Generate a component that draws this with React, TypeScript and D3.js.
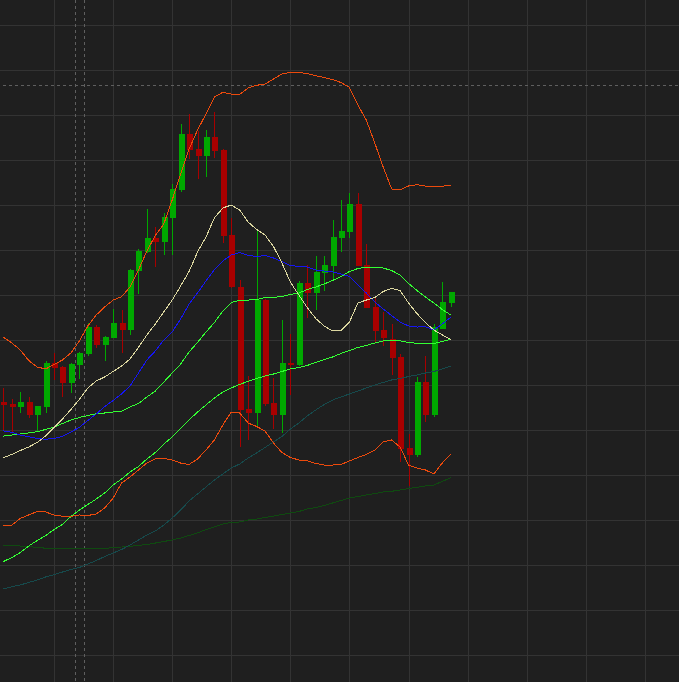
import { useEffect, useRef } from 'react'
import * as d3 from 'd3'

// OHLC, one entry per session (price units)
const opens = [
  33.14, 32.92, 32.56, 33.11, 31.70, 32.59, 37.44, 36.97, 35.26, 37.22,
  38.44, 41.41, 39.48, 40.26, 41.89, 41.11, 47.70, 49.78, 51.37, 50.89,
  53.59, 56.67, 62.89, 61.22, 60.44, 62.56, 61.11, 51.67, 45.86, 32.33,
  31.92, 44.48, 33.00, 31.67, 37.44, 37.22, 46.33, 45.22, 47.44, 48.22,
  51.33, 52.00, 55.11, 48.33, 43.67, 41.11, 40.11, 38.11, 28.00, 27.22,
  35.33, 31.67, 41.22, 44.11,
]
const highs = [
  34.70, 33.44, 34.22, 33.63, 32.63, 37.63, 38.52, 37.11, 37.44, 38.70,
  41.86, 41.63, 40.44, 43.44, 43.33, 47.89, 50.08, 54.56, 52.59, 54.08,
  57.33, 64.00, 65.11, 63.22, 63.33, 65.33, 61.22, 53.59, 46.67, 36.03,
  52.11, 44.56, 35.81, 42.22, 40.67, 46.56, 48.33, 49.33, 49.33, 53.33,
  55.56, 56.33, 56.33, 50.67, 44.81, 43.11, 41.78, 38.44, 29.56, 35.89,
  38.22, 41.78, 46.44, 45.33,
]
const lows = [
  30.00, 29.81, 31.86, 31.37, 29.81, 31.86, 35.56, 33.70, 34.14, 35.67,
  38.26, 39.14, 37.67, 40.26, 38.59, 40.56, 45.11, 49.67, 48.14, 49.48,
  49.48, 56.48, 60.11, 57.89, 58.11, 60.22, 50.78, 45.78, 28.14, 28.89,
  30.44, 32.67, 30.11, 29.63, 33.89, 37.11, 42.44, 43.33, 45.44, 46.67,
  49.81, 51.33, 48.22, 43.56, 39.67, 39.33, 36.11, 26.44, 23.78, 27.00,
  30.89, 31.48, 41.22, 43.67,
]
const closes = [
  32.81, 32.56, 33.11, 31.70, 32.63, 37.44, 36.92, 35.26, 37.33, 38.59,
  41.48, 39.48, 40.37, 41.89, 41.14, 47.78, 49.89, 51.37, 50.92, 53.67,
  56.78, 62.89, 61.14, 60.44, 62.56, 61.00, 51.59, 45.86, 32.22, 31.92,
  44.48, 32.89, 31.67, 37.44, 37.22, 46.33, 45.22, 47.56, 48.33, 51.44,
  52.11, 55.11, 48.22, 43.56, 41.00, 40.22, 38.00, 27.89, 27.22, 35.33,
  31.67, 41.44, 44.22, 45.33,
]

// Bollinger bands
const bbUpper = [
  40.30, 39.67, 38.89, 37.72, 37.00, 36.78, 37.28, 37.78, 38.56, 39.89,
  41.56, 42.78, 43.67, 44.44, 44.81, 45.89, 47.78, 49.89, 51.61, 52.89,
  55.56, 58.44, 61.22, 63.33, 65.11, 67.00, 67.52, 67.33, 67.28, 68.00,
  68.30, 68.44, 69.00, 69.56, 69.74, 69.74, 69.59, 69.37, 69.17, 68.94,
  68.61, 68.06, 66.11, 64.44, 61.89, 59.22, 56.78, 56.67, 57.11, 57.26,
  57.11, 57.08, 57.08, 57.22,
]
const bbLower = [
  19.41, 19.44, 20.17, 20.56, 20.94, 20.89, 20.56, 20.41, 20.41, 20.56,
  20.50, 20.67, 21.33, 22.44, 24.11, 24.78, 25.56, 26.33, 26.78, 26.83,
  26.67, 26.33, 26.17, 26.78, 27.78, 28.89, 30.56, 32.00, 31.89, 30.78,
  30.39, 29.89, 28.56, 27.50, 26.94, 26.67, 26.59, 26.28, 26.11, 26.11,
  26.17, 26.56, 26.94, 27.28, 27.78, 28.67, 28.89, 28.11, 26.11, 25.78,
  25.56, 25.11, 26.33, 27.33,
]

// moving averages
const maFast = [
  26.94, 27.28, 27.72, 28.11, 28.61, 29.33, 30.28, 31.22, 32.28, 33.39,
  34.67, 35.44, 35.89, 36.50, 37.11, 37.89, 39.17, 40.56, 41.78, 43.11,
  44.44, 46.00, 47.61, 49.78, 51.44, 53.56, 54.67, 55.00, 54.44, 53.11,
  52.28, 51.67, 50.39, 48.56, 46.44, 45.00, 43.61, 42.39, 41.56, 41.00,
  41.06, 42.00, 44.11, 44.44, 44.72, 45.39, 45.74, 45.50, 44.11, 42.94,
  41.94, 41.11, 40.56, 40.08,
]
const maMid = [
  29.89, 29.74, 29.44, 29.26, 29.06, 28.97, 29.06, 29.28, 29.78, 30.28,
  31.06, 31.78, 32.61, 33.28, 34.00, 34.89, 36.33, 37.78, 38.78, 40.00,
  40.89, 42.33, 44.00, 45.22, 46.56, 47.83, 48.78, 49.44, 49.72, 49.39,
  49.28, 49.39, 49.11, 48.72, 48.28, 48.17, 48.11, 47.78, 47.67, 47.56,
  47.33, 47.06, 46.11, 45.22, 44.22, 43.44, 42.72, 42.00, 41.56, 41.44,
  41.48, 41.11, 41.78, 42.52,
]
const maSlow = [
  29.33, 29.44, 29.56, 29.67, 29.81, 30.06, 30.33, 30.72, 31.11, 31.39,
  31.61, 31.81, 31.89, 32.00, 32.06, 32.56, 32.94, 33.67, 34.33, 35.33,
  36.33, 37.33, 38.67, 39.72, 40.89, 41.94, 43.22, 44.17, 44.41, 44.44,
  44.50, 44.72, 44.74, 44.83, 45.06, 45.22, 45.61, 45.89, 46.22, 46.61,
  47.06, 47.61, 47.94, 48.08, 48.08, 48.00, 47.72, 47.22, 46.28, 45.50,
  44.78, 44.11, 43.39, 42.78,
]
const maLong = [
  15.39, 15.83, 16.39, 17.11, 17.72, 18.26, 18.94, 19.50, 20.39, 21.11,
  21.72, 22.33, 23.00, 23.89, 24.56, 25.33, 25.94, 26.78, 27.50, 28.44,
  29.22, 30.17, 31.11, 32.00, 32.78, 33.56, 34.22, 34.67, 35.06, 35.41,
  35.72, 36.00, 36.22, 36.50, 36.78, 36.94, 37.17, 37.50, 37.83, 38.11,
  38.50, 38.83, 39.17, 39.39, 39.67, 39.89, 39.92, 39.92, 39.72, 39.63,
  39.61, 39.61, 39.83, 40.08,
]
const maTrend = [
  12.33, 12.59, 12.78, 13.06, 13.33, 13.67, 13.92, 14.22, 14.50, 14.72,
  15.11, 15.50, 15.94, 16.33, 16.72, 17.22, 17.78, 18.33, 18.78, 19.44,
  20.22, 21.11, 22.11, 22.89, 23.67, 24.44, 25.11, 25.78, 26.22, 26.89,
  27.44, 28.06, 28.67, 29.28, 30.11, 30.78, 31.56, 32.22, 32.83, 33.33,
  33.67, 34.00, 34.33, 34.67, 35.00, 35.28, 35.56, 35.72, 35.94, 36.11,
  36.33, 36.50, 36.78, 37.11,
]
const maBase = [
  17.19, 17.14, 17.11, 17.03, 16.97, 16.86, 16.86, 16.86, 16.86, 16.86,
  16.86, 16.86, 16.86, 16.92, 17.00, 17.08, 17.17, 17.28, 17.44, 17.61,
  17.78, 18.00, 18.28, 18.56, 18.94, 19.22, 19.56, 19.72, 19.78, 20.00,
  20.11, 20.28, 20.44, 20.61, 20.78, 20.94, 21.22, 21.39, 21.61, 21.89,
  22.17, 22.44, 22.61, 22.78, 22.94, 23.11, 23.19, 23.33, 23.50, 23.63,
  23.78, 23.89, 24.28, 24.70,
]

const priceTicks = d3.range(5, 80, 5)
const sessionTicks = d3.range(6, 80, 7)
const markerSessions = [8.5, 9.6]
const markerPrice = 68.3

const lineSeries = [
  { values: maBase, color: '#0f4a10' },
  { values: maTrend, color: '#164a4c' },
  { values: maLong, color: '#33ff33' },
  { values: maSlow, color: '#33ff33' },
  { values: maMid, color: '#1515f5' },
  { values: maFast, color: '#dcd7a0' },
  { values: bbUpper, color: '#ec4a0c' },
  { values: bbLower, color: '#ec4a0c' },
]

export default function App() {
  const svgRef = useRef<SVGSVGElement>(null)

  useEffect(() => {
    if (!svgRef.current) return
    const width = 679
    const height = 682

    d3.select(svgRef.current).selectAll('*').remove()

    const svg = d3.select(svgRef.current)
      .attr('width', width)
      .attr('height', height)

    const x = d3.scaleLinear().domain([0, 1]).range([3.4, 11.84])
    const y = d3.scaleLinear().domain([0, 75]).range([700, 25])

    svg.append('rect')
      .attr('width', width)
      .attr('height', height)
      .attr('fill', '#1f1f1f')

    // grid
    const grid = svg.append('g')
      .attr('stroke', '#333333')
      .attr('stroke-width', 1)
      .attr('shape-rendering', 'crispEdges')

    grid.selectAll('.hgrid')
      .data(priceTicks)
      .join('line')
      .attr('x1', 0)
      .attr('x2', width)
      .attr('y1', d => Math.round(y(d)) + 0.5)
      .attr('y2', d => Math.round(y(d)) + 0.5)

    grid.selectAll('.vgrid')
      .data(sessionTicks)
      .join('line')
      .attr('x1', d => Math.round(x(d)) + 0.5)
      .attr('x2', d => Math.round(x(d)) + 0.5)
      .attr('y1', 0)
      .attr('y2', height)

    // dashed markers
    const markers = svg.append('g')
      .attr('stroke', '#5f5f5f')
      .attr('stroke-width', 1)
      .attr('stroke-dasharray', '3,3')
      .attr('shape-rendering', 'crispEdges')

    markers.selectAll('line.mv')
      .data(markerSessions)
      .join('line')
      .attr('class', 'mv')
      .attr('x1', d => Math.round(x(d)) + 0.5)
      .attr('x2', d => Math.round(x(d)) + 0.5)
      .attr('y1', 0)
      .attr('y2', height)

    markers.append('line')
      .attr('x1', 3)
      .attr('x2', width)
      .attr('y1', Math.round(y(markerPrice)) + 0.5)
      .attr('y2', Math.round(y(markerPrice)) + 0.5)

    // candles
    const candles = opens.map((o, i) => ({
      i, o, h: highs[i], l: lows[i], c: closes[i],
    }))
    const bodyW = 6

    const cg = svg.append('g').attr('shape-rendering', 'crispEdges')

    cg.selectAll('.wick')
      .data(candles)
      .join('line')
      .attr('class', 'wick')
      .attr('x1', d => Math.round(x(d.i)) + 0.5)
      .attr('x2', d => Math.round(x(d.i)) + 0.5)
      .attr('y1', d => y(d.h))
      .attr('y2', d => y(d.l))
      .attr('stroke', d => d.c >= d.o ? '#00a800' : '#a80000')
      .attr('stroke-width', 1)

    cg.selectAll('.body')
      .data(candles)
      .join('rect')
      .attr('class', 'body')
      .attr('x', d => Math.round(x(d.i)) - bodyW / 2 + 0.5)
      .attr('y', d => y(Math.max(d.o, d.c)))
      .attr('width', bodyW)
      .attr('height', d => Math.max(1, Math.abs(y(d.o) - y(d.c))))
      .attr('fill', d => d.c >= d.o ? '#00a800' : '#a80000')

    // indicator lines
    const line = d3.line<number>()
      .x((_, i) => x(i))
      .y(d => y(d))

    svg.append('g')
      .selectAll('path')
      .data(lineSeries)
      .join('path')
      .attr('d', d => line(d.values))
      .attr('fill', 'none')
      .attr('stroke', d => d.color)
      .attr('stroke-width', 1)
      .attr('shape-rendering', 'crispEdges')
  }, [])

  return (
    <svg ref={svgRef} style={{ position: 'absolute', left: 0, top: 0, display: 'block' }}></svg>
  )
}
